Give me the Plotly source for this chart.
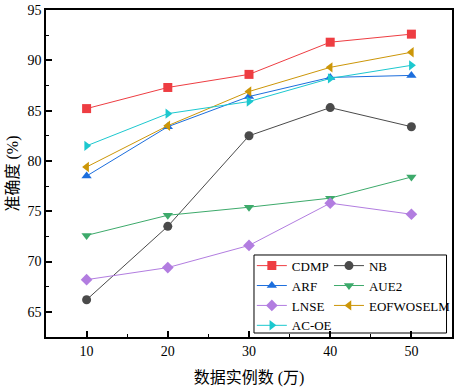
import plotly.graph_objects as go

x_vals = [10, 20, 30, 40, 50]
cdmp = [85.2, 87.3, 88.6, 91.8, 92.6]
nb = [66.2, 73.5, 82.5, 85.3, 83.4]
arf = [78.5, 83.4, 86.4, 88.3, 88.5]
aue2 = [72.6, 74.6, 75.4, 76.3, 78.4]
lnse = [68.2, 69.4, 71.6, 75.8, 74.7]
eofwoselm = [79.4, 83.5, 86.9, 89.3, 90.8]
acoe = [81.5, 84.7, 85.9, 88.2, 89.5]

series = [
    ("CDMP", cdmp, "#EE3D42", "square", "legend"),
    ("NB", nb, "#4A4A4A", "circle", "legend2"),
    ("ARF", arf, "#1C6EDD", "triangle-up", "legend"),
    ("AUE2", aue2, "#3DAA6B", "triangle-down", "legend2"),
    ("LNSE", lnse, "#B27DE0", "diamond", "legend"),
    ("EOFWOSELM", eofwoselm, "#CC9608", "triangle-left", "legend2"),
    ("AC-OE", acoe, "#1CC8CF", "triangle-right", "legend"),
]

fig = go.Figure()
for name, ys, color, sym, lg in series:
    fig.add_trace(go.Scatter(
        x=x_vals, y=ys, name=name, mode="lines+markers",
        line=dict(color=color, width=1),
        marker=dict(symbol=sym, size=9, color=color),
        legend=lg,
    ))

font_family = "Liberation Serif, Times New Roman, Noto Sans CJK SC"
cjk_family = "Liberation Serif, Noto Sans CJK SC"
leg_common = dict(
    yanchor="top", xanchor="left", orientation="v",
    bgcolor="rgba(0,0,0,0)", borderwidth=0,
    font=dict(size=13, family=font_family),
    itemwidth=30, tracegroupgap=0,
)
fig.update_layout(
    width=454, height=388,
    margin=dict(l=46, r=2, t=10, b=51, autoexpand=False),
    paper_bgcolor="white", plot_bgcolor="white",
    font=dict(family=font_family, size=14, color="black"),
    legend=dict(x=0.507, y=0.264, **leg_common),
    legend2=dict(x=0.697, y=0.264, **leg_common),
    showlegend=True,
    shapes=[dict(
        type="rect", xref="paper", yref="paper",
        x0=0.5123, x1=0.9865, y0=0.0122, y1=0.2508,
        line=dict(color="black", width=1), fillcolor="white", layer="below",
    )],
)
fig.update_xaxes(
    range=[5, 55], tickvals=[10, 20, 30, 40, 50],
    showline=True, linecolor="black", linewidth=1.5, mirror=True,
    ticks="inside", ticklen=6, tickwidth=1.5, tickcolor="black",
    minor=dict(tickvals=[15, 25, 35, 45], ticks="inside", ticklen=3, tickwidth=1, tickcolor="black"),
    showgrid=False, zeroline=False,
    tickfont=dict(size=14),
    title=dict(text="数据实例数 (万)", font=dict(size=16, family=cjk_family), standoff=14),
)
fig.update_yaxes(
    range=[62.5, 95], tickvals=[65, 70, 75, 80, 85, 90, 95],
    showline=True, linecolor="black", linewidth=1.5, mirror=True,
    ticks="inside", ticklen=6, tickwidth=1.5, tickcolor="black",
    minor=dict(tickvals=[67.5, 72.5, 77.5, 82.5, 87.5, 92.5], ticks="inside", ticklen=3, tickwidth=1, tickcolor="black"),
    showgrid=False, zeroline=False,
    tickfont=dict(size=14),
    title=dict(text="准确度 (%)", font=dict(size=16, family=cjk_family), standoff=5),
)
fig.write_html("out.html", config={"displayModeBar": False},
               post_script="document.body.style.margin='0';")
